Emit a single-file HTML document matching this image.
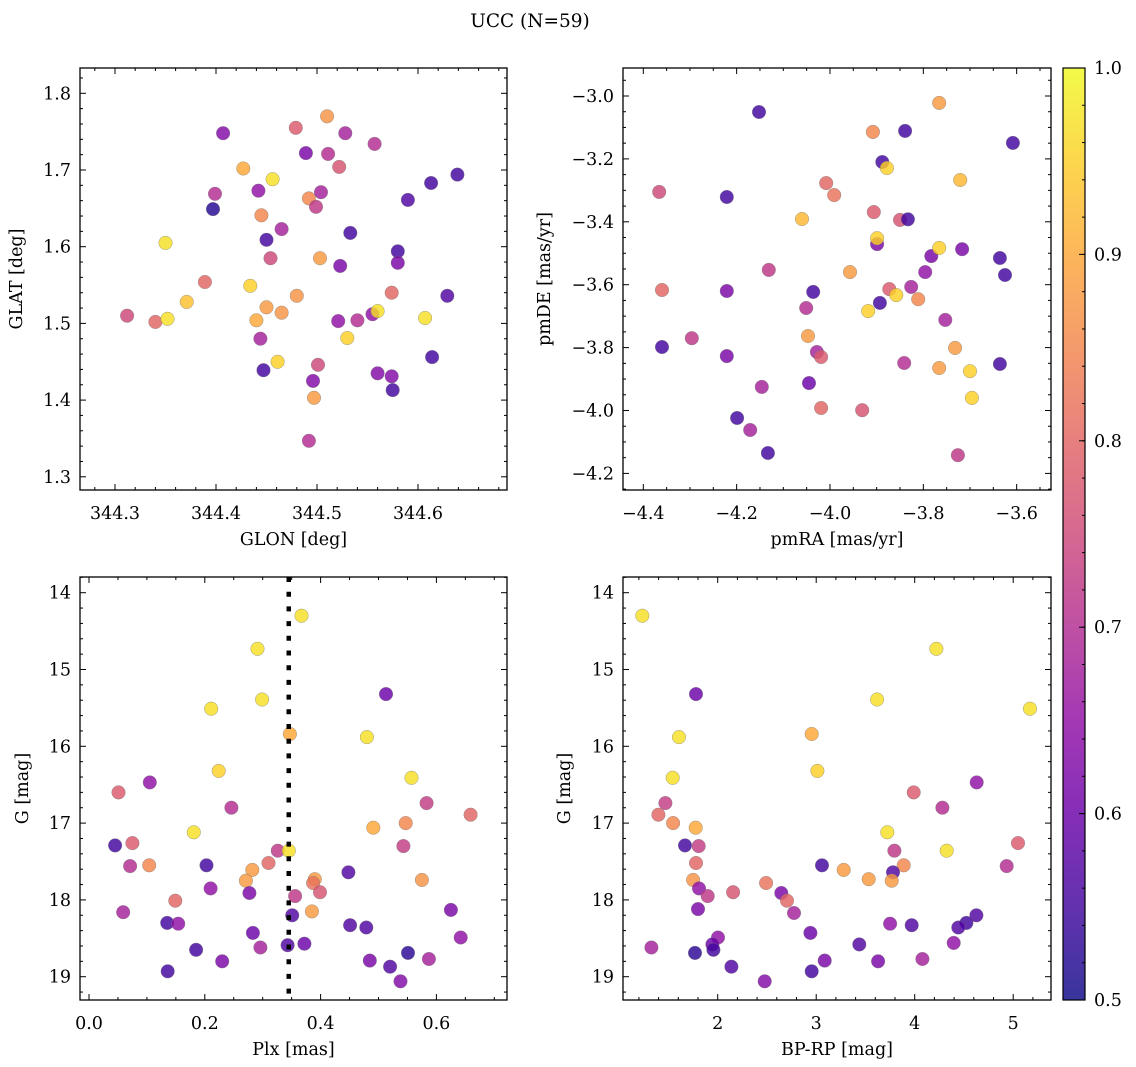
<!DOCTYPE html>
<html><head><meta charset="utf-8">
<style>
html,body{margin:0;padding:0;background:#fff;}
svg{display:block;font-family:"DejaVu Serif","Liberation Serif",serif;}
</style></head>
<body>
<svg id="fig" width="1136" height="1067" viewBox="0 0 1136 1067" xmlns="http://www.w3.org/2000/svg">
<rect width="1136" height="1067" fill="#fff"/>
<text x="530" y="27" font-size="18.5" text-anchor="middle">UCC (N=59)</text>
<defs>
<linearGradient id="cbgrad" x1="0" y1="1" x2="0" y2="0">
<stop offset="0" stop-color="#0d0887"/><stop offset="0.1" stop-color="#41049d"/><stop offset="0.2" stop-color="#6a00a8"/><stop offset="0.3" stop-color="#8f0da4"/><stop offset="0.4" stop-color="#b12a90"/><stop offset="0.5" stop-color="#cc4778"/><stop offset="0.6" stop-color="#e16462"/><stop offset="0.7" stop-color="#f2844b"/><stop offset="0.8" stop-color="#fca636"/><stop offset="0.9" stop-color="#fcce25"/><stop offset="1" stop-color="#f0f921"/>
</linearGradient>
</defs>
<g id="layer"></g>
</svg>
<script>
// ---- data ----
const glon = [344.312,344.340,344.352,344.350,344.371,344.389,344.397,344.399,344.407,344.427,344.434,344.440,344.442,344.444,344.445,344.447,344.450,344.450,344.454,344.456,344.461,344.465,344.465,344.479,344.480,344.489,344.492,344.496,344.497,344.492,344.499,344.501,344.504,344.503,344.510,344.511,344.522,344.523,344.528,344.533,344.521,344.530,344.540,344.557,344.555,344.560,344.560,344.574,344.574,344.575,344.580,344.580,344.590,344.607,344.614,344.613,344.629,344.639];
const glat = [1.510,1.502,1.506,1.605,1.528,1.554,1.649,1.669,1.748,1.702,1.549,1.504,1.673,1.480,1.641,1.439,1.609,1.521,1.585,1.688,1.450,1.514,1.623,1.755,1.536,1.722,1.663,1.425,1.403,1.347,1.652,1.446,1.671,1.585,1.770,1.721,1.704,1.575,1.748,1.618,1.503,1.481,1.504,1.734,1.512,1.435,1.516,1.540,1.431,1.413,1.594,1.579,1.661,1.507,1.456,1.683,1.536,1.694];
const prob1 = [0.75,0.80,0.97,0.97,0.93,0.80,0.52,0.70,0.63,0.90,0.95,0.90,0.65,0.68,0.85,0.55,0.55,0.88,0.75,0.97,0.95,0.87,0.68,0.78,0.87,0.62,0.85,0.63,0.88,0.70,0.72,0.75,0.68,0.88,0.87,0.70,0.77,0.62,0.68,0.55,0.65,0.95,0.70,0.70,0.65,0.63,0.97,0.80,0.63,0.55,0.55,0.62,0.57,0.97,0.55,0.55,0.57,0.55];

const pmra = [-4.366,-4.360,-4.360,-4.296,-4.221,-4.221,-4.221,-4.199,-4.171,-4.152,-4.146,-4.133,-4.131,-4.060,-4.051,-4.047,-4.045,-4.036,-4.028,-4.019,-4.019,-4.008,-3.991,-3.957,-3.931,-3.918,-3.908,-3.906,-3.899,-3.899,-3.893,-3.888,-3.878,-3.873,-3.858,-3.850,-3.841,-3.839,-3.833,-3.826,-3.811,-3.796,-3.783,-3.766,-3.766,-3.766,-3.753,-3.732,-3.726,-3.721,-3.717,-3.700,-3.696,-3.636,-3.636,-3.625,-3.608];
const pmde = [-3.305,-3.617,-3.798,-3.770,-3.321,-3.620,-3.827,-4.024,-4.062,-3.051,-3.925,-4.135,-3.553,-3.391,-3.674,-3.763,-3.913,-3.623,-3.814,-3.830,-3.992,-3.277,-3.315,-3.560,-3.999,-3.684,-3.114,-3.369,-3.471,-3.452,-3.658,-3.210,-3.229,-3.614,-3.633,-3.394,-3.849,-3.111,-3.392,-3.607,-3.646,-3.560,-3.509,-3.483,-3.022,-3.865,-3.712,-3.801,-4.142,-3.267,-3.487,-3.875,-3.960,-3.515,-3.852,-3.569,-3.149];
const prob2 = [0.75,0.80,0.55,0.72,0.55,0.62,0.62,0.55,0.68,0.55,0.68,0.55,0.72,0.92,0.70,0.88,0.60,0.55,0.68,0.78,0.80,0.80,0.82,0.88,0.77,0.95,0.85,0.78,0.62,0.95,0.55,0.55,0.95,0.78,0.95,0.77,0.70,0.55,0.55,0.68,0.85,0.65,0.62,0.95,0.88,0.88,0.68,0.88,0.72,0.92,0.62,0.95,0.95,0.55,0.55,0.55,0.55];

const plx = [0.367,0.291,0.513,0.299,0.211,0.347,0.480,0.224,0.557,0.105,0.051,0.583,0.246,0.659,0.547,0.491,0.181,0.045,0.075,0.543,0.326,0.345,0.071,0.104,0.203,0.310,0.282,0.448,0.271,0.390,0.387,0.575,0.210,0.277,0.356,0.399,0.149,0.059,0.385,0.625,0.351,0.135,0.154,0.451,0.479,0.283,0.642,0.343,0.372,0.296,0.185,0.551,0.587,0.230,0.485,0.520,0.136,0.538];
const gmag = [14.30,14.73,15.32,15.39,15.51,15.84,15.88,16.32,16.41,16.47,16.60,16.74,16.80,16.89,17.00,17.06,17.12,17.29,17.26,17.30,17.36,17.36,17.56,17.55,17.55,17.52,17.61,17.64,17.75,17.73,17.78,17.74,17.85,17.91,17.95,17.90,18.01,18.16,18.15,18.13,18.20,18.30,18.31,18.33,18.36,18.43,18.49,18.59,18.57,18.62,18.65,18.69,18.77,18.80,18.79,18.87,18.93,19.06];
const prob3 = [0.97,0.97,0.60,0.97,0.97,0.90,0.97,0.95,0.97,0.65,0.78,0.73,0.70,0.80,0.85,0.90,0.97,0.55,0.78,0.73,0.72,0.97,0.70,0.85,0.55,0.80,0.88,0.57,0.88,0.88,0.82,0.87,0.65,0.62,0.72,0.77,0.80,0.68,0.88,0.62,0.57,0.55,0.65,0.57,0.57,0.60,0.65,0.57,0.60,0.68,0.55,0.53,0.68,0.62,0.62,0.57,0.55,0.63];
const plxCut = 0.345;

const bprp = [1.235,4.220,1.780,3.618,5.171,2.954,1.607,3.012,1.543,4.629,3.990,1.469,4.281,1.398,1.547,1.777,3.722,1.668,5.049,1.807,3.794,4.325,4.934,3.888,3.059,1.780,3.279,3.780,3.533,3.766,1.750,2.491,1.810,2.646,2.156,1.898,2.704,1.800,2.775,4.626,4.525,4.443,3.750,3.970,2.941,2.003,4.396,1.946,3.438,1.327,1.956,1.770,4.078,3.086,3.628,2.139,2.954,2.477];
const gmag4 = [14.30,14.73,15.32,15.39,15.51,15.84,15.88,16.32,16.41,16.47,16.60,16.74,16.80,16.89,17.00,17.06,17.12,17.29,17.26,17.30,17.36,17.36,17.56,17.55,17.55,17.52,17.61,17.64,17.73,17.75,17.74,17.78,17.85,17.91,17.90,17.95,18.01,18.12,18.17,18.20,18.30,18.36,18.31,18.33,18.43,18.49,18.56,18.58,18.58,18.62,18.65,18.69,18.77,18.79,18.80,18.87,18.93,19.06];
const prob4 = [0.97,0.97,0.60,0.97,0.97,0.90,0.97,0.95,0.97,0.65,0.78,0.73,0.70,0.80,0.85,0.90,0.97,0.55,0.78,0.73,0.72,0.97,0.70,0.85,0.55,0.80,0.88,0.57,0.88,0.88,0.87,0.82,0.65,0.62,0.77,0.72,0.80,0.62,0.68,0.57,0.55,0.57,0.65,0.57,0.60,0.65,0.65,0.60,0.57,0.68,0.55,0.53,0.68,0.62,0.62,0.57,0.55,0.63];

const cbTicks = [0.5,0.6,0.7,0.8,0.9,1.0];

// ---- helpers ----
const NS = "http://www.w3.org/2000/svg";
const layer = document.getElementById("layer");
const FS = 17.5;
function mk(tag, attrs, parent){const e=document.createElementNS(NS,tag);for(const k in attrs)e.setAttribute(k,attrs[k]);(parent||layer).appendChild(e);return e;}
const plasma=[[13,8,135],[65,4,157],[106,0,168],[143,13,164],[177,42,144],[204,71,120],[225,100,98],[242,132,75],[252,166,54],[252,206,37],[240,249,33]];
function cmap(v){let t=(v-0.5)/0.5;t=Math.max(0,Math.min(1,t))*10;const i=Math.min(9,Math.floor(t)),f=t-i;const a=plasma[i],b=plasma[i+1];return `rgb(${Math.round(a[0]+(b[0]-a[0])*f)},${Math.round(a[1]+(b[1]-a[1])*f)},${Math.round(a[2]+(b[2]-a[2])*f)})`;}
function fmt(v,d){const s=Math.abs(v).toFixed(d);return (v<-1e-9?"\u2212":"")+s;}

function panel(cfg){
  const g=mk("g",{});
  
  
  const {x0,x1,y0,y1}=cfg;
  const pg=mk("g",{},g);
  
  
  for(let i=0;i<cfg.xs.length;i++){
    const c=mk("circle",{cx:cfg.sx(cfg.xs[i]).toFixed(1),cy:cfg.sy(cfg.ys[i]).toFixed(1),r:6.8,fill:cmap(cfg.cs[i]),"fill-opacity":0.82,stroke:"#777","stroke-width":0.5,"stroke-opacity":0.7},pg);
    
    
  }
  if(cfg.extra)cfg.extra(g);
  const fr=mk("rect",{x:x0,y:y0,width:x1-x0,height:y1-y0,fill:"none",stroke:"#000","stroke-width":1.3},g);
  
  
  const xa=mk("g",{},g);
  
  
  for(let v=cfg.xmin;v<=cfg.xmax+1e-9;v+=cfg.xminor){
    const p=cfg.sx(v); if(p<x0-0.5||p>x1+0.5)continue;
    const isMaj=Math.abs(v/cfg.xmajor-Math.round(v/cfg.xmajor))<1e-6;
    const L=isMaj?6:3;
    mk("line",{x1:p,x2:p,y1:y1,y2:y1-L,stroke:"#000","stroke-width":1},xa);
    mk("line",{x1:p,x2:p,y1:y0,y2:y0+L,stroke:"#000","stroke-width":1},xa);
    if(isMaj){const t=mk("text",{x:p,y:y1+29,"font-size":FS,"text-anchor":"middle"},xa);t.textContent=fmt(v,cfg.xd);
      
      }
  }
  const ya=mk("g",{},g);
  
  
  for(let v=cfg.ymin;v<=cfg.ymax+1e-9;v+=cfg.yminor){
    const p=cfg.sy(v); if(p<y0-0.5||p>y1+0.5)continue;
    const isMaj=Math.abs(v/cfg.ymajor-Math.round(v/cfg.ymajor))<1e-6;
    const L=isMaj?6:3;
    mk("line",{x1:x0,x2:x0+L,y1:p,y2:p,stroke:"#000","stroke-width":1},ya);
    mk("line",{x1:x1,x2:x1-L,y1:p,y2:p,stroke:"#000","stroke-width":1},ya);
    if(isMaj){const t=mk("text",{x:x0-9,y:p+6,"font-size":FS,"text-anchor":"end"},ya);t.textContent=fmt(v,cfg.yd);
      
      }
  }
  const xt=mk("text",{x:(x0+x1)/2,y:y1+55,"font-size":FS,"text-anchor":"middle"},g);xt.textContent=cfg.xlabel;
  
  
  const ty=cfg.ylx;
  const yt=mk("text",{x:ty,y:(y0+y1)/2,"font-size":FS,"text-anchor":"middle",transform:`rotate(-90 ${ty} ${(y0+y1)/2})`},g);yt.textContent=cfg.ylabel;
  
  
}

panel({name:"glon-glat-panel",x0:80,x1:507,y0:68,y1:490,
  sx:v=>115+(v-344.3)*1010, sy:v=>93.3+(1.8-v)*767,
  xs:glon,ys:glat,cs:prob1,xmin:344.22,xmax:344.70,xminor:0.02,xmajor:0.1,xd:1,
  ymin:1.26,ymax:1.84,yminor:0.02,ymajor:0.1,yd:1,xlabel:"GLON [deg]",ylabel:"GLAT [deg]",ylx:22});
panel({name:"pm-panel",x0:623,x1:1051,y0:68,y1:490,
  sx:v=>643.3+(v+4.4)*466.7, sy:v=>96+(-3.0-v)*314.5,
  xs:pmra,ys:pmde,cs:prob2,xmin:-4.5,xmax:-3.5,xminor:0.05,xmajor:0.2,xd:1,
  ymin:-4.3,ymax:-2.9,yminor:0.05,ymajor:0.2,yd:1,xlabel:"pmRA [mas/yr]",ylabel:"pmDE [mas/yr]",ylx:550});
panel({name:"plx-g-panel",x0:80,x1:507,y0:577,y1:1000,
  sx:v=>89+v*579, sy:v=>592.7+(v-14)*76.8,
  xs:plx,ys:gmag,cs:prob3,xmin:-0.05,xmax:0.75,xminor:0.05,xmajor:0.2,xd:1,
  ymin:13.8,ymax:19.4,yminor:0.2,ymajor:1,yd:0,xlabel:"Plx [mas]",ylabel:"G [mag]",ylx:28,
  extra:g=>{const p=89+plxCut*579;const l=mk("line",{x1:p,x2:p,y1:577,y2:1000,stroke:"#000","stroke-width":4.5,"stroke-dasharray":"5 9.7"},g);
    
    }});
panel({name:"cmd-panel",x0:623,x1:1051,y0:577,y1:1000,
  sx:v=>717.7+(v-2)*98.5, sy:v=>592.7+(v-14)*76.8,
  xs:bprp,ys:gmag4,cs:prob4,xmin:1.0,xmax:5.6,xminor:0.2,xmajor:1,xd:0,
  ymin:13.8,ymax:19.4,yminor:0.2,ymajor:1,yd:0,xlabel:"BP-RP [mag]",ylabel:"G [mag]",ylx:570});

(function(){
  const g=mk("g",{});
  
  
  const x0=1063,x1=1085,y0=68,y1=1000;
  const r=mk("rect",{x:x0,y:y0,width:x1-x0,height:y1-y0,fill:"url(#cbgrad)","fill-opacity":0.82},g);
  
  
  mk("rect",{x:x0,y:y0,width:x1-x0,height:y1-y0,fill:"none",stroke:"#000","stroke-width":1.2},g);
  const sy=v=>y1-(v-0.5)/0.5*(y1-y0);
  for(let k=0;k<=25;k++){const v=0.5+k*0.02;const p=sy(v);mk("line",{x1:x1,x2:x1-3,y1:p,y2:p,stroke:"#000","stroke-width":1},g);}
  cbTicks.forEach(v=>{const p=sy(v);mk("line",{x1:x1,x2:x1-6,y1:p,y2:p,stroke:"#000","stroke-width":1},g);
    const t=mk("text",{x:x1+9,y:p+6,"font-size":FS},g);t.textContent=v.toFixed(1);
    
    });
})();
</script>
</body></html>
